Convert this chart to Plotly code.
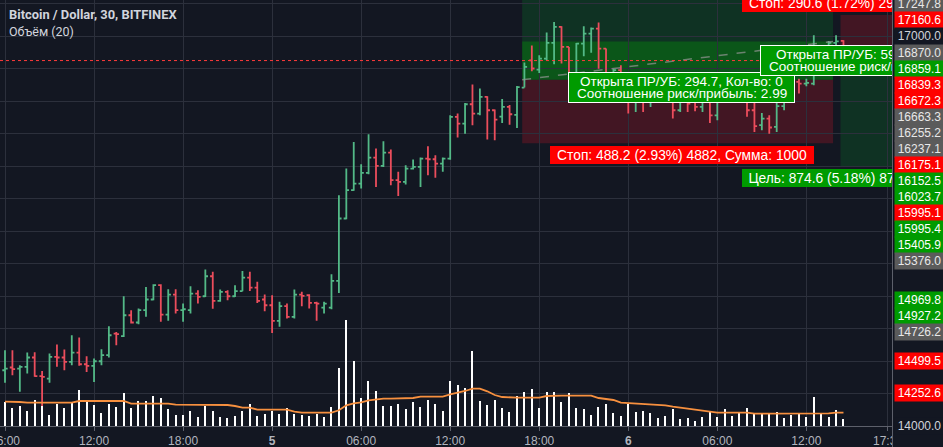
import pandas as pd
import plotly.graph_objects as go

# ---------------- data ----------------
times = pd.date_range("2018-01-04 06:00", periods=114, freq="30min")

opens = [14429, 14450, 14442, 14455, 14527, 14383, 14365, 14532, 14527, 14493,
         14565, 14475, 14462, 14498, 14545, 14711, 14691, 14852, 14796, 14891,
         14973, 15083, 14857, 15011, 14891, 14891, 15019, 14998, 15152, 14963,
         15032, 14998, 15037, 15142, 15065, 14973, 14929, 14809, 14922, 14840,
         15011, 15006, 14947, 14911, 14911, 15116, 15596, 15814, 15865, 15947,
         16065, 16001, 16103, 15891, 15878, 15980, 15993, 16057, 16052, 16019,
         16057, 16378, 16326, 16475, 16403, 16531, 16429, 16380, 16455, 16393,
         16603, 16813, 16742, 16826, 16947, 17070, 16916, 16634, 16942, 17019,
         17057, 16903, 16544, 16737, 16531, 16493, 16557, 16544, 16685, 16531,
         16557, 16429, 16531, 16506, 16455, 16493, 16390, 16531, 16685, 16570,
         16531, 16429, 16314, 16365, 16301, 16460, 16660, 16647, 16634, 16634,
         16890, 16826, 16947, 16962]
highs = [14583, 14583, 14468, 14565, 14568, 14424, 14557, 14627, 14588, 14698,
         14680, 14537, 14519, 14591, 14768, 14724, 14998, 14891, 14903, 15070,
         15091, 15091, 15052, 15052, 14942, 15075, 15044, 15204, 15186, 15050,
         15044, 15083, 15193, 15186, 15109, 15011, 15006, 14955, 14942, 15050,
         15032, 15014, 14955, 14955, 15167, 15775, 15980, 16185, 16014, 16244,
         16134, 16191, 16127, 15955, 16006, 16050, 16065, 16152, 16083, 16065,
         16390, 16403, 16485, 16626, 16596, 16537, 16434, 16515, 16470, 16616,
         16796, 16926, 16852, 17026, 17108, 17075, 16916, 16947, 17075, 17065,
         17103, 16903, 16749, 16775, 16544, 16724, 16570, 16724, 16698, 16698,
         16583, 16557, 16544, 16531, 16531, 16531, 16557, 16724, 16724, 16724,
         16540, 16493, 16408, 16390, 16493, 16706, 16690, 16672, 16672, 17006,
         16916, 16962, 17006, 16967]
lows = [14332, 14391, 14263, 14404, 14378, 14147, 14332, 14455, 14429, 14468,
        14463, 14416, 14339, 14468, 14527, 14621, 14685, 14788, 14783, 14840,
        14968, 14801, 14809, 14865, 14801, 14865, 14942, 14993, 14901, 14955,
        14968, 14993, 15037, 15039, 14947, 14883, 14716, 14763, 14827, 14827,
        14921, 14904, 14809, 14865, 14898, 15024, 15591, 15809, 15827, 15937,
        15839, 15993, 15852, 15770, 15857, 15973, 15839, 15929, 15909, 15955,
        16049, 16219, 16249, 16314, 16390, 16203, 16198, 16330, 16318, 16293,
        16603, 16729, 16716, 16813, 16783, 16788, 16626, 16629, 16844, 16872,
        16749, 16539, 16531, 16506, 16403, 16416, 16416, 16454, 16506, 16506,
        16365, 16416, 16416, 16421, 16416, 16331, 16352, 16506, 16531, 16531,
        16378, 16262, 16275, 16249, 16262, 16429, 16493, 16557, 16614, 16621,
        16788, 16801, 16916, 16788]
closes = [14442, 14437, 14455, 14527, 14383, 14378, 14532, 14527, 14493, 14565,
          14475, 14462, 14498, 14545, 14698, 14706, 14852, 14796, 14891, 14973,
          15083, 14857, 15011, 14891, 14898, 15019, 14993, 15152, 14963, 15032,
          14998, 15037, 15142, 15065, 14963, 14929, 14809, 14922, 14840, 15011,
          15001, 14947, 14942, 14942, 15116, 15596, 15814, 15865, 15947, 16065,
          16001, 16103, 15891, 15878, 15980, 15993, 16057, 16052, 16019, 16057,
          16378, 16326, 16475, 16403, 16531, 16429, 16357, 16455, 16398, 16606,
          16762, 16750, 16826, 16947, 17070, 16916, 16634, 16942, 17019, 17057,
          16903, 16544, 16737, 16544, 16493, 16557, 16544, 16698, 16531, 16519,
          16429, 16531, 16480, 16455, 16506, 16390, 16531, 16685, 16621, 16610,
          16429, 16306, 16365, 16296, 16460, 16660, 16634, 16634, 16639, 16890,
          16826, 16947, 16958, 16811]
volumes = [480, 354, 400, 294, 514, 400, 214, 434, 360, 454,
           714, 514, 414, 254, 434, 374, 654, 354, 494, 494,
           594, 554, 334, 214, 214, 294, 174, 394, 294, 174,
           154, 194, 294, 434, 194, 234, 294, 234, 354, 234,
           214, 194, 234, 174, 374, 1154, 2114, 1294, 554, 894,
           694, 394, 394, 434, 334, 474, 374, 514, 434, 294,
           894, 814, 754, 1494, 494, 414, 514, 354, 274, 594,
           674, 734, 354, 674, 674, 474, 654, 354, 334, 214,
           374, 434, 254, 194, 434, 274, 294, 254, 154, 194,
           334, 134, 154, 94, 174, 274, 174, 334, 194, 254,
           354, 234, 234, 234, 274, 154, 214, 234, 174, 574,
           234, 174, 314, 134]
volume_ma = [488, 488, 480, 468, 468, 468, 468, 468, 468, 468,
             500, 500, 494, 488, 488, 488, 500, 448, 448, 448,
             448, 448, 448, 428, 428, 428, 428, 428, 428, 428,
             420, 400, 368, 368, 328, 328, 328, 328, 328, 288,
             268, 268, 268, 268, 268, 314, 414, 454, 474, 514,
             534, 548, 548, 548, 548, 560, 588, 588, 588, 588,
             634, 660, 700, 748, 748, 694, 620, 580, 568, 568,
             568, 568, 568, 600, 608, 608, 608, 608, 608, 608,
             560, 540, 520, 468, 460, 448, 448, 428, 428, 414,
             388, 368, 348, 328, 308, 280, 268, 268, 268, 268,
             268, 248, 248, 248, 248, 248, 248, 248, 248, 248,
             248, 254, 268, 268]

tick_times = ["2018-01-04 06:00", "2018-01-04 12:00", "2018-01-04 18:00", "2018-01-05 00:00",
              "2018-01-05 06:00", "2018-01-05 12:00", "2018-01-05 18:00", "2018-01-06 00:00",
              "2018-01-06 06:00", "2018-01-06 12:00", "2018-01-06 17:30"]
tick_labels = ["06:00", "12:00", "18:00", "<b>5</b>", "06:00", "12:00", "18:00", "<b>6</b>",
               "06:00", "12:00", "17:30"]

axis_label_values = [17247.8, 17160.6, 17000.0, 16870.0, 16859.1, 16839.3, 16672.3, 16663.3,
                     16255.2, 16237.1, 16175.1, 16152.5, 16023.7, 15995.1, 15995.4, 15405.9,
                     15376.0, 14969.8, 14927.2, 14726.2, 14499.5, 14252.6, 14000.0]
axis_label_kinds = ["grey", "red", "plain", "grey", "green", "red", "red", "grey",
                    "grey", "grey", "red", "green", "green", "red", "green", "green",
                    "grey", "green", "green", "grey", "red", "red", "plain"]

# long position tool
long_start, long_end = "2018-01-05 16:51", "2018-01-06 13:48"
long_entry, long_stop, long_target, long_close = 16663.3, 16175.1, 18122.9, 16958.0
# short position tool
short_start, short_end = "2018-01-06 14:18", "2018-01-06 18:48"
short_entry, short_stop, short_target, short_close = 16870.0, 17160.6, 15995.4, 16811.0
last_price = 16811.0

# ---------------- style ----------------
BG = "#131722"
GRID = "#2c303c"
AXLINE = "#5d606b"
TXT = "#b2b5be"
UP, DOWN = "#53b987", "#eb4d5c"
RED_LBL, GREEN_LBL = "#ff0000", "#009b00"
LABEL_BG = {"grey": "#5b5b5b", "red": RED_LBL, "green": GREEN_LBL, "plain": BG}
LABEL_FG = {"grey": "#e8e8e8", "red": "#ffffff", "green": "#ffffff", "plain": "#d1d4dc"}
FONT = "Liberation Sans, Arial, sans-serif"

Y_MIN, Y_MAX = 14000.0, 17276.9
X_MIN, X_MAX = "2018-01-04 05:39:48", "2018-01-06 17:46:12"
PLOT_H = 426
VOL_MAX = 8520

fig = go.Figure()

fig.add_trace(go.Bar(x=times, y=volumes, yaxis="y2", width=300000,
                     marker=dict(color="#ffffff", line=dict(width=0)),
                     hoverinfo="skip", showlegend=False))
fig.add_trace(go.Scatter(x=times, y=volume_ma, yaxis="y2", mode="lines",
                         line=dict(color="#f7903f", width=1.8),
                         hoverinfo="skip", showlegend=False))
fig.add_trace(go.Ohlc(x=times, open=opens, high=highs, low=lows, close=closes,
                      increasing=dict(line=dict(color=UP, width=1.8)),
                      decreasing=dict(line=dict(color=DOWN, width=1.8)),
                      tickwidth=0.36, hoverinfo="skip", showlegend=False))

shapes = []
def zone(x0, x1, y0, y1, color):
    shapes.append(dict(type="rect", xref="x", yref="y", x0=x0, x1=x1, y0=y0, y1=y1,
                       fillcolor=color, line=dict(width=0), layer="below"))

GREEN_Z = "rgba(0,170,40,0.19)"
RED_Z = "rgba(255,20,40,0.2)"
BAND = "rgba(0,190,0,0.26)"
zone(long_start, long_end, long_entry, long_target, GREEN_Z)
zone(long_start, long_end, long_stop, long_entry, RED_Z)
zone(long_start, long_end, long_entry, long_close, BAND)
zone(short_start, short_end, short_entry, short_stop, RED_Z)
zone(short_start, short_end, short_target, short_entry, GREEN_Z)
zone(short_start, short_end, short_close, short_entry, BAND)
shapes.append(dict(type="line", xref="x", yref="y", x0=long_start, x1=long_end,
                   y0=long_entry, y1=long_close,
                   line=dict(color="rgba(150,150,150,0.7)", width=1.5, dash="dash")))
shapes.append(dict(type="line", xref="paper", yref="y", x0=0, x1=1, y0=last_price, y1=last_price,
                   line=dict(color="#ff3b3b", width=1, dash="dot")))

def mid(a, b):
    ta, tb = pd.Timestamp(a), pd.Timestamp(b)
    return ta + (tb - ta) / 2

ann = []
# legend text
ann.append(dict(xref="paper", yref="paper", x=7 / 892, y=1 - 15 / PLOT_H, xanchor="left", yanchor="middle",
                text="<b>Bitcoin / Dollar, 30, BITFINEX</b>", showarrow=False,
                font=dict(family="Roboto, sans-serif", size=12.9, color="#d1d4dc")))
ann.append(dict(xref="paper", yref="paper", x=7 / 892, y=1 - 32 / PLOT_H, xanchor="left", yanchor="middle",
                text="Объём (20)", showarrow=False,
                font=dict(family="Roboto, sans-serif", size=12.5, color="#d1d4dc")))

lab_font = dict(family=FONT, size=13.8, color="#ffffff")
box_font = dict(family=FONT, size=13.5, color="#ffffff")
long_mid = mid(long_start, long_end)
short_mid = mid(short_start, short_end)
long_risk = long_entry - long_stop
short_risk = short_stop - short_entry
short_reward = short_entry - short_target

def tag(x, y, text, color, anchor, shift, xs=0):
    ann.append(dict(x=x, y=y, xref="x", yref="y", yanchor=anchor, yshift=shift, xshift=xs, text=text,
                    showarrow=False, bgcolor=color, borderpad=0, borderwidth=0,
                    width=264, height=18, font=lab_font))

def info_box(x, y, line1, line2, xs=0):
    ann.append(dict(x=x, y=y, xref="x", yref="y", yanchor="middle", yshift=-7.5, xshift=xs, text=" ",
                    showarrow=False, bgcolor=GREEN_LBL, bordercolor="#ffffff", borderwidth=1,
                    borderpad=0, width=225, height=29))
    ann.append(dict(x=x, y=y, xref="x", yref="y", yanchor="middle", yshift=-1.5, xshift=xs, text=line1,
                    showarrow=False, font=box_font))
    ann.append(dict(x=x, y=y, xref="x", yref="y", yanchor="middle", yshift=-13.5, xshift=xs, text=line2,
                    showarrow=False, font=box_font))

tag(long_mid, long_stop,
    "Стоп: %.1f (%.2f%%) %d, Сумма: 1000" % (long_risk, long_risk / long_entry * 100, round(long_risk * 10)),
    RED_LBL, "top", -3, 4)
info_box(long_mid, long_entry,
         "Открыта ПР/УБ: %.1f, Кол-во: 0" % (long_close - long_entry),
         "Соотношение риск/прибыль: %.2f" % ((long_target - long_entry) / long_risk), 4)
tag(short_mid, short_stop,
    "Стоп: %.1f (%.2f%%) %d, Сумма: 1000" % (short_risk, short_risk / short_entry * 100, round(short_risk * 10)),
    RED_LBL, "bottom", 3.5)
tag(short_mid, short_target,
    "Цель: %.1f (%.2f%%) %d, Сумма: 1000" % (short_reward, short_reward / short_entry * 100, round(short_reward * 10)),
    GREEN_LBL, "top", -2)
info_box(short_mid, short_entry,
         "Открыта ПР/УБ: %.1f, Кол-во: 0" % (short_entry - short_close),
         "Соотношение риск/прибыль: %.2f" % (short_reward / short_risk))

# price-scale panel cover
ann.append(dict(xref="paper", yref="paper", x=1, y=1.06, xanchor="left", yanchor="top",
                text=" ", showarrow=False, width=80, height=500, bgcolor=BG,
                bordercolor=AXLINE, borderwidth=1, borderpad=0))

# price-scale labels (stacked so they do not overlap)
units_per_px = (Y_MAX - Y_MIN) / PLOT_H
gap = 16 * units_per_px
prev = None
for v, kind in zip(axis_label_values, axis_label_kinds):
    d = v if prev is None else min(v, prev - gap)
    prev = d
    ann.append(dict(xref="paper", yref="paper", x=1, xshift=2, y=(d - Y_MIN) / (Y_MAX - Y_MIN),
                    xanchor="left", yanchor="middle", text="%.1f" % v, showarrow=False,
                    width=49, height=16, borderpad=0, bgcolor=LABEL_BG[kind], align="center",
                    font=dict(family=FONT, size=12, color=LABEL_FG[kind])))

fig.update_layout(
    width=943, height=447, margin=dict(l=0, r=51, t=0, b=21, autoexpand=False),
    paper_bgcolor=BG, plot_bgcolor=BG, showlegend=False,
    shapes=shapes, annotations=ann, bargap=0,
    xaxis=dict(type="date", range=[X_MIN, X_MAX], tickvals=tick_times, ticktext=tick_labels,
               showgrid=True, gridcolor=GRID, gridwidth=1, showline=True, linecolor=AXLINE,
               ticks="outside", ticklen=4, tickcolor=AXLINE, zeroline=False,
               ticklabeloverflow="allow", automargin=False,
               tickfont=dict(family=FONT, size=12, color=TXT),
               rangeslider=dict(visible=False), fixedrange=True),
    yaxis=dict(range=[Y_MIN, Y_MAX], tickmode="linear", tick0=14000, dtick=250,
               showgrid=True, gridcolor=GRID, gridwidth=1, showticklabels=False,
               zeroline=False, showline=False, fixedrange=True, automargin=False),
    yaxis2=dict(overlaying="y", range=[0, VOL_MAX], visible=False, fixedrange=True),
)

fig.write_html("out.html", config={"displayModeBar": False})
